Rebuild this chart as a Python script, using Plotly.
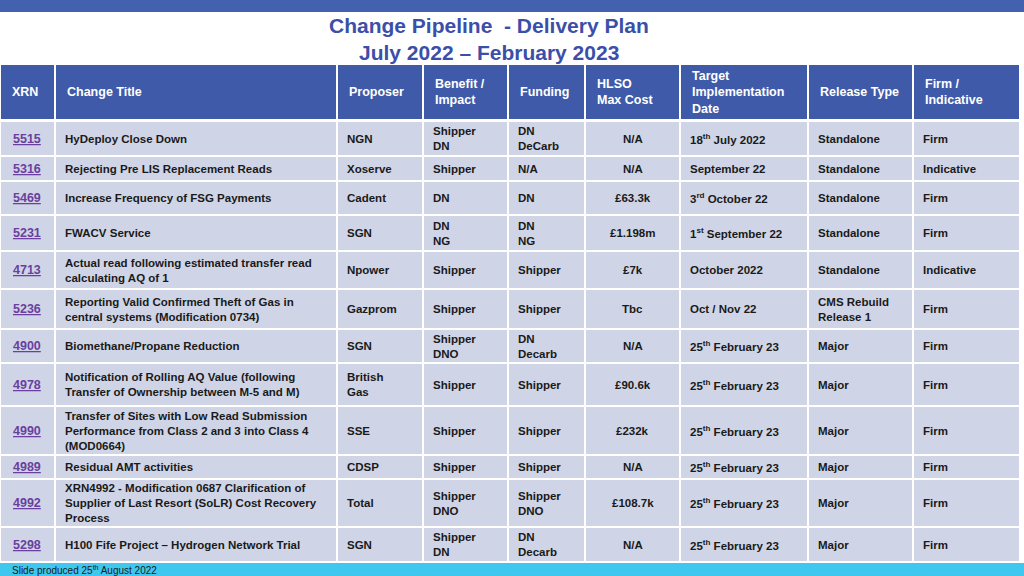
import plotly.graph_objects as go

headers = ["XRN", "Change Title", "Proposer", "Benefit /<br>Impact", "Funding",
           "HLSO<br>Max Cost", "Target<br>Implementation<br>Date", "Release Type", "Firm /<br>Indicative"]
xrn = ["5515", "5316", "5469", "5231", "4713", "5236", "4900", "4978", "4990", "4989", "4992", "5298"]
titles = ["HyDeploy Close Down", "Rejecting Pre LIS Replacement Reads", "Increase Frequency of FSG Payments",
          "FWACV Service", "Actual read following estimated transfer read<br>calculating AQ of 1",
          "Reporting Valid Confirmed Theft of Gas in<br>central systems (Modification 0734)",
          "Biomethane/Propane Reduction",
          "Notification of Rolling AQ Value (following<br>Transfer of Ownership between M-5 and M)",
          "Transfer of Sites with Low Read Submission<br>Performance from Class 2 and 3 into Class 4<br>(MOD0664)",
          "Residual AMT activities",
          "XRN4992 - Modification 0687 Clarification of<br>Supplier of Last Resort (SoLR) Cost Recovery<br>Process",
          "H100 Fife Project – Hydrogen Network Trial"]
proposer = ["NGN", "Xoserve", "Cadent", "SGN", "Npower", "Gazprom", "SGN", "British<br>Gas", "SSE", "CDSP", "Total", "SGN"]
benefit = ["Shipper<br>DN", "Shipper", "DN", "DN<br>NG", "Shipper", "Shipper", "Shipper<br>DNO", "Shipper",
           "Shipper", "Shipper", "Shipper<br>DNO", "Shipper<br>DN"]
funding = ["DN<br>DeCarb", "N/A", "DN", "DN<br>NG", "Shipper", "Shipper", "DN<br>Decarb", "Shipper",
           "Shipper", "Shipper", "Shipper<br>DNO", "DN<br>Decarb"]
cost = ["N/A", "N/A", "£63.3k", "£1.198m", "£7k", "Tbc", "N/A", "£90.6k", "£232k", "N/A", "£108.7k", "N/A"]
target = ["18<sup>th</sup> July 2022", "September 22", "3<sup>rd</sup> October 22", "1<sup>st</sup> September 22",
          "October 2022", "Oct / Nov 22"] + ["25<sup>th</sup> February 23"] * 6
release = ["Standalone"] * 5 + ["CMS Rebuild<br>Release 1"] + ["Major"] * 6
firm = ["Firm", "Indicative", "Firm", "Firm", "Indicative"] + ["Firm"] * 7

col_edges = [0, 55, 337, 423, 508, 585, 680, 808, 913, 1020]
row_edges = [122, 157, 182, 216, 252, 290, 330, 364, 407, 456, 480, 528, 563]

HEAD = "#3f5aa8"
ROW = "#cfd5e6"
TXT = "#1a1a1a"
F = "Liberation Sans, Arial, sans-serif"

shapes = []
ann = []
def rect(x0, y0, x1, y1, c):
    shapes.append(dict(type="rect", xref="x", yref="y", x0=x0, x1=x1, y0=y0, y1=y1,
                       fillcolor=c, line=dict(width=0), layer="below"))

rect(0, 0, 1024, 12, "#4262b0")
rect(0, 563, 1024, 576, "#3ec8f0")

for j in range(9):
    rect(col_edges[j] + 1, 65, col_edges[j + 1] - 1, 119, HEAD)
    ann.append(dict(x=col_edges[j] + 10, y=92, text="<b>" + headers[j] + "</b>", showarrow=False,
                    xanchor="left", yanchor="middle", align="left",
                    font=dict(family=F, size=12.5, color="white")))

cols = [titles, proposer, benefit, funding, cost, target, release, firm]
for i in range(len(xrn)):
    y0, y1 = row_edges[i], row_edges[i + 1] - 2
    ym = (y0 + y1) / 2
    for j in range(9):
        rect(col_edges[j] + 1, y0, col_edges[j + 1] - 1, y1, ROW)
    ann.append(dict(x=27, y=ym, text="<b><u>" + xrn[i] + "</u></b>", showarrow=False,
                    xanchor="center", yanchor="middle",
                    font=dict(family=F, size=12.5, color="#6a3fa0")))
    for k, arr in enumerate(cols):
        j = k + 1
        if j == 5:
            ann.append(dict(x=(col_edges[j] + col_edges[j + 1]) / 2, y=ym, text="<b>" + arr[i] + "</b>",
                            showarrow=False, xanchor="center", yanchor="middle",
                            font=dict(family=F, size=11.5, color=TXT)))
        else:
            ann.append(dict(x=col_edges[j] + 8, y=ym, text="<b>" + arr[i] + "</b>", showarrow=False,
                            xanchor="left", yanchor="middle", align="left",
                            font=dict(family=F, size=11.5, color=TXT)))

ann.append(dict(x=489, y=25, text="<b>Change Pipeline  - Delivery Plan</b>", showarrow=False,
                xanchor="center", yanchor="middle", font=dict(family=F, size=21, color="#3b4fa8")))
ann.append(dict(x=489, y=52, text="<b>July 2022 – February 2023</b>", showarrow=False,
                xanchor="center", yanchor="middle", font=dict(family=F, size=21, color="#3b4fa8")))
ann.append(dict(x=10, y=569.5, text="Slide produced 25<sup>th</sup> August 2022", showarrow=False,
                xanchor="left", yanchor="middle", font=dict(family=F, size=10, color=TXT)))

fig = go.Figure()
fig.update_layout(width=1024, height=576, margin=dict(l=0, r=0, t=0, b=0),
                  paper_bgcolor="white", plot_bgcolor="white", shapes=shapes, annotations=ann,
                  xaxis=dict(range=[0, 1024], visible=False, fixedrange=True),
                  yaxis=dict(range=[576, 0], visible=False, fixedrange=True),
                  showlegend=False)
fig.write_html("out.html", config={"displayModeBar": False},
               post_script="document.body.style.margin='0';document.body.style.overflow='hidden';")
